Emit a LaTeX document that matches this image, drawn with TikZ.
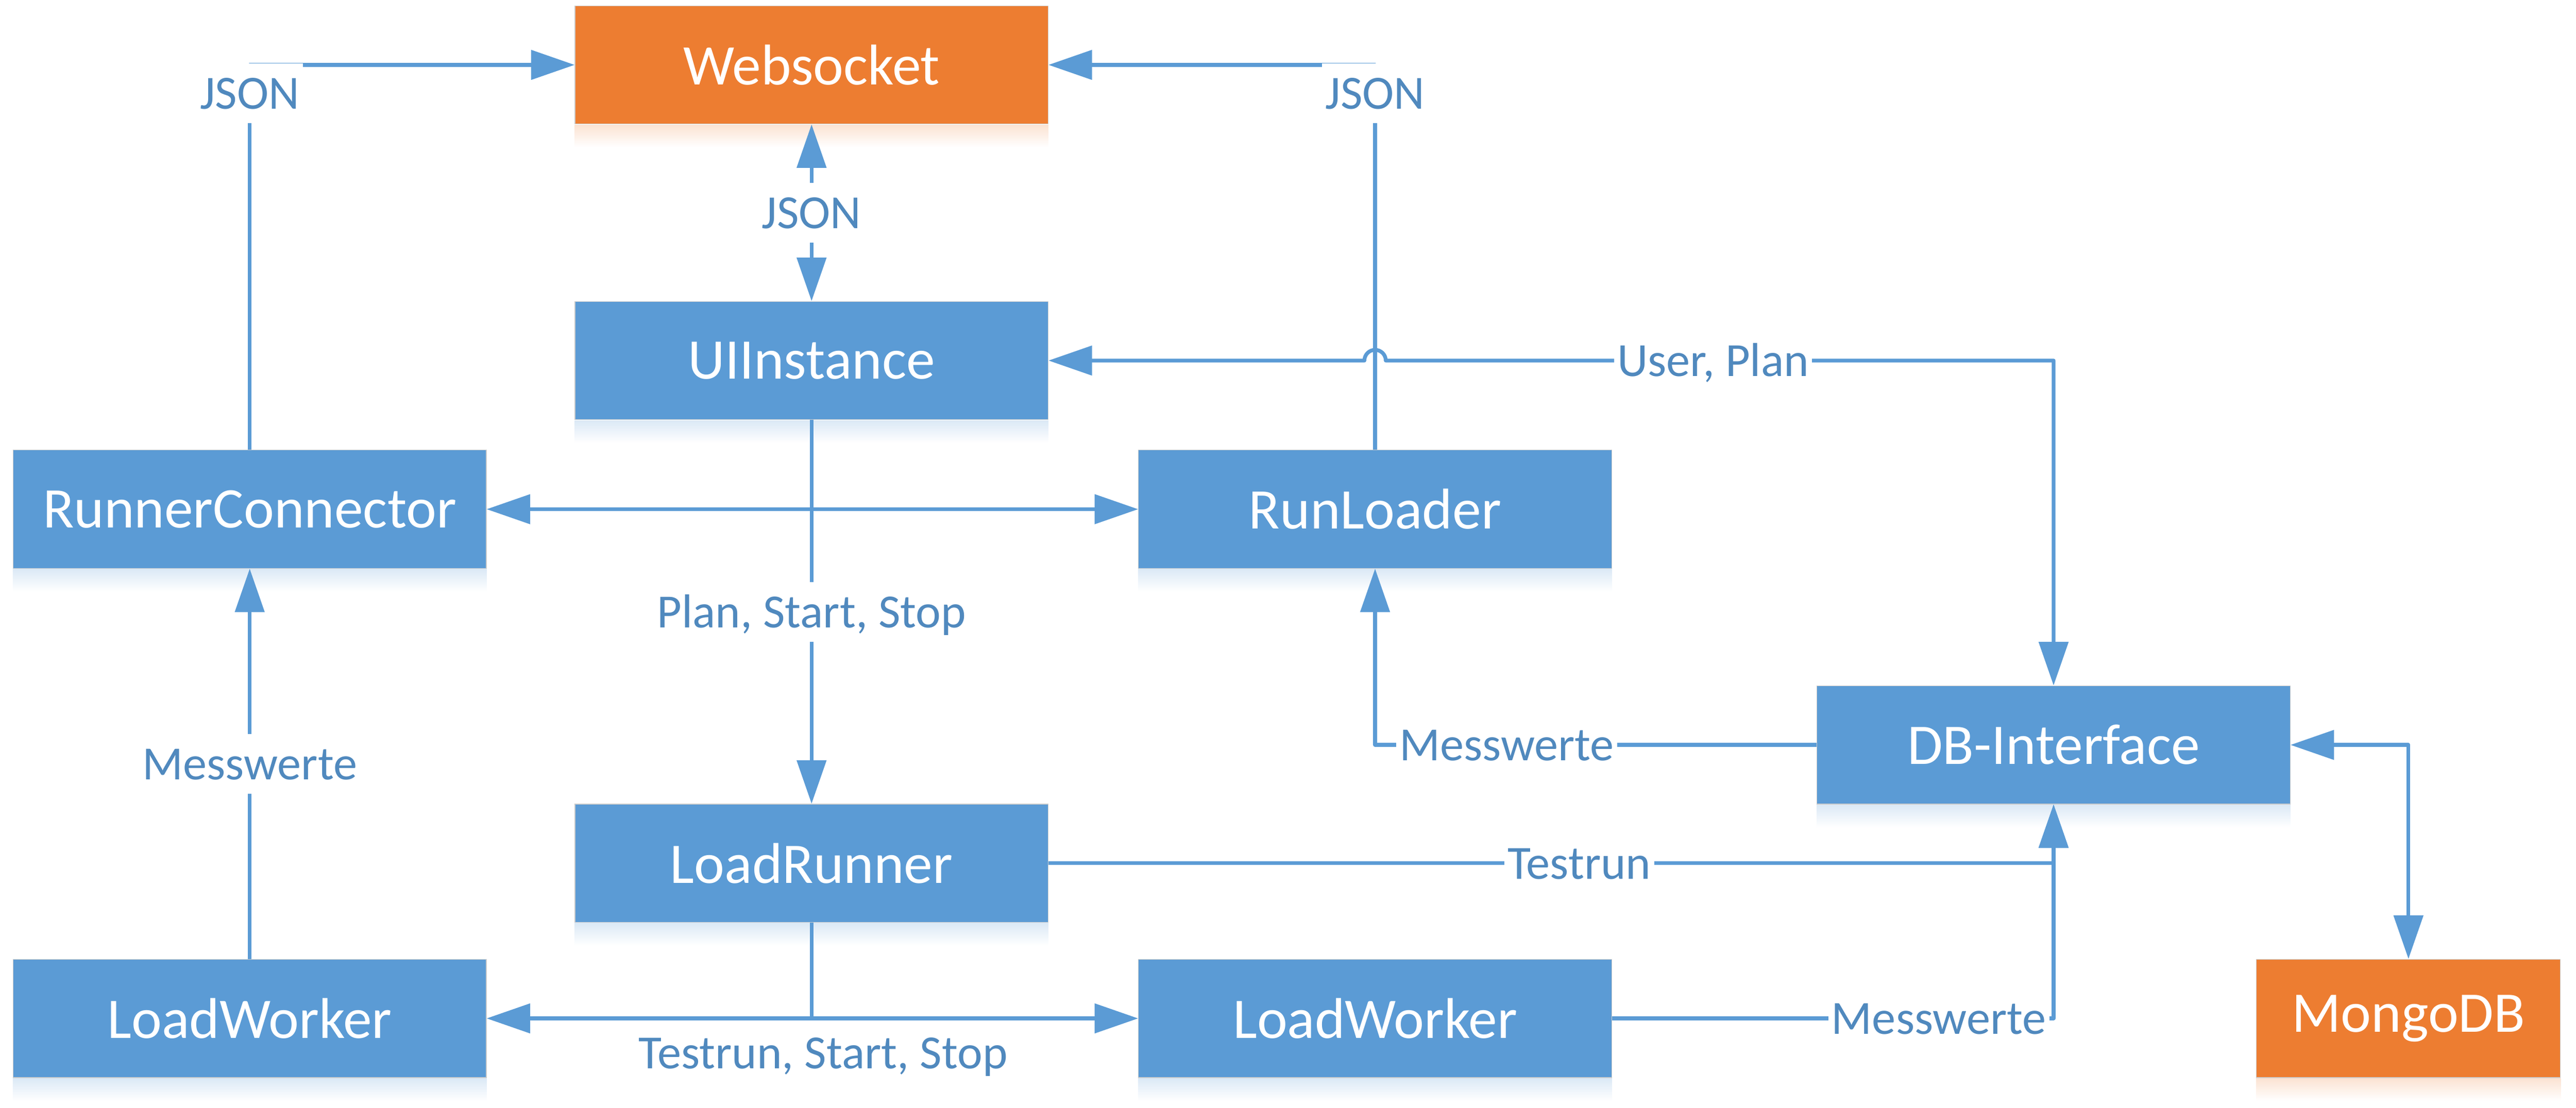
\documentclass[tikz,border=0pt]{standalone}
\usepackage{fontspec}
\setmainfont{Carlito}
\usetikzlibrary{arrows.meta}
\definecolor{boxBlue}{RGB}{91,155,213}
\definecolor{boxOrange}{RGB}{237,125,49}
\definecolor{labelBlue}{RGB}{80,137,190}

\begin{document}
\begin{tikzpicture}[
  x=1pt, y=-1pt,
  box/.style={draw=black!20, line width=.4pt, fill=boxBlue, text=white,
    minimum width=288pt, minimum height=72pt, inner sep=0pt,
    font=\fontsize{35}{42}\selectfont},
  store/.style={box, fill=boxOrange},
  lbl/.style={fill=white, text=labelBlue, inner xsep=2pt, inner ysep=8.7pt,
    text height=19pt, text depth=0pt, font=\fontsize{29}{35}\selectfont},
  flow/.style={draw=boxBlue, line width=2.3pt, line join=round,
    -{Triangle[length=26.5pt,width=17.7pt]}},
  both/.style={flow, {Triangle[length=26.5pt,width=17.7pt]}-{Triangle[length=26.5pt,width=17.7pt]}}]

\useasboundingbox (0,0) rectangle (1568,674.5);

% Position the nodes at fixed coordinates
\node[store] (websocket) at (494,39.5) {Websocket};
\node[box] (uiInstance) at (494,219.5) {UIInstance};
\node[box] (runnerConnector) at (152,310) {RunnerConnector};
\node[box] (runLoader) at (837,310) {RunLoader};
\node[box] (dbInterface) at (1250,453.5) {DB-Interface};
\node[box] (loadRunner) at (494,525.5) {LoadRunner};
\node[box] (loadWorkerLeft) at (152,620) {LoadWorker};
\node[box] (loadWorkerRight) at (837,620) {LoadWorker};
\node[store, minimum width=185pt] (mongoDB) at (1466,620) {MongoDB};

% Soft shadow under every box
\foreach \n/\c in {websocket/boxOrange, uiInstance/boxBlue, runnerConnector/boxBlue,
    runLoader/boxBlue, dbInterface/boxBlue, loadRunner/boxBlue,
    loadWorkerLeft/boxBlue, loadWorkerRight/boxBlue, mongoDB/boxOrange}
  \shade[top color=\c!22, bottom color=white] ([yshift=-.2pt]\n.south west) rectangle ([yshift=-14pt]\n.south east);

% Draw the arrows between the nodes and label them.
\draw [flow] (runnerConnector.north) |- node[lbl, pos=.463] {JSON} (websocket.west);
\draw [flow] (runLoader.north) |- node[lbl, pos=.463] {JSON} (websocket.east);
\draw [both] (websocket) -- node[lbl] {JSON} (uiInstance);
\draw [both] (uiInstance.east) -- ([xshift=-6.5pt]runLoader.north |- uiInstance.east)
  arc[start angle=180, end angle=0, radius=6.5pt]
  -- node[lbl, pos=.49] {User, Plan} (dbInterface.north |- uiInstance.east) -- (dbInterface.north);
\draw [both] (runnerConnector) -- (runLoader);
\draw [flow] (uiInstance) -- node[lbl] {Plan, Start, Stop} (loadRunner);
\draw [flow] (loadWorkerLeft) -- node[lbl] {Messwerte} (runnerConnector);
\draw [flow] (dbInterface.west) -| node[lbl, pos=.351] {Messwerte} (runLoader.south);
\draw [flow] (loadRunner.east) -| node[lbl, pos=.264] {Testrun} (dbInterface.south);
\draw [flow] (loadWorkerRight.east) -| node[lbl, pos=.37] {Messwerte} (dbInterface.south);
\draw [flow] (loadRunner.south) |- (loadWorkerLeft.east);
\draw [flow] (loadRunner.south) |- (loadWorkerRight.west);
\draw [both] (dbInterface.east) -| (mongoDB.north);

\node[lbl, fill=none] (startStopLabel) at (501,641) {Testrun, Start, Stop};
\end{tikzpicture}
\end{document}
